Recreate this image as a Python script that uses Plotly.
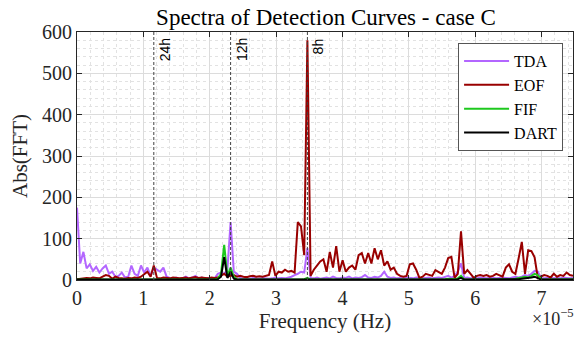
import numpy as np
import plotly.graph_objects as go

# frequency bins: resolution 1/(24 days), 156 bins
n_bins = 156
freq = np.arange(n_bins) / (24 * 86400.0)

tda = [175, 40, 68, 28, 38, 22, 32, 18, 28, 35, 15, 20, 8, 10, 18, 6, 8, 35, 15, 10,
       35, 18, 30, 10, 30, 25, 20, 30, 8, 5, 4, 6, 3, 4, 8, 4, 6, 10, 4, 6,
       3, 5, 3, 4, 15, 18, 15, 25, 140, 20, 15, 5, 3, 4, 3, 5, 4, 3, 5, 4,
       3, 4, 6, 4, 5, 4, 6, 8, 12, 15, 20, 18, 77, 5, 4, 6, 3, 5, 6, 4,
       8, 5, 4, 6, 5, 8, 4, 6, 5, 7, 12, 6, 5, 8, 6, 10, 20, 8, 5, 6,
       4, 5, 4, 6, 5, 4, 6, 5, 4, 5, 6, 4, 5, 6, 5, 8, 10, 6, 10, 20,
       40, 5, 6, 4, 5, 4, 6, 5, 4, 6, 5, 4, 5, 6, 5, 4, 6, 8, 6, 8,
       12, 10, 15, 22, 20, 5, 4, 5, 6, 4, 5, 4, 6, 5, 4, 5]

eof = [2, 3, 4, 5, 4, 6, 5, 4, 8, 12, 10, 3, 8, 5, 4, 3, 5, 4, 6, 5,
       8, 15, 20, 8, 35, 5, 4, 6, 5, 4, 6, 5, 4, 5, 6, 4, 5, 7, 5, 6,
       5, 4, 6, 5, 6, 10, 15, 8, 10, 12, 8, 10, 8, 7, 9, 10, 8, 9, 8, 10,
       12, 45, 10, 20, 18, 25, 20, 22, 18, 140, 130, 60, 580, 10, 25, 35, 45, 50, 20, 68,
       30, 82, 20, 48, 20, 30, 35, 25, 60, 65, 40, 65, 40, 77, 50, 72, 35, 45, 25, 30,
       15, 10, 8, 10, 38, 40, 25, 5, 8, 15, 12, 10, 24, 20, 15, 30, 53, 56, 5, 15,
       118, 15, 24, 15, 5, 10, 12, 10, 12, 8, 10, 15, 12, 8, 30, 38, 20, 15, 52, 92,
       15, 72, 70, 55, 5, 8, 12, 10, 6, 15, 8, 12, 10, 18, 12, 10]

fif = [1, 1, 1, 1, 1, 1, 1, 1, 1, 1, 1, 1, 1, 1, 1, 1, 1, 1, 1, 1,
       1, 1, 1, 1, 2, 1, 1, 1, 1, 1, 1, 1, 1, 1, 1, 1, 1, 1, 1, 1,
       1, 1, 2, 2, 3, 15, 85, 10, 30, 8, 2, 1, 1, 1, 1, 1, 1, 1, 1, 1,
       1, 1, 1, 1, 1, 1, 1, 1, 1, 2, 2, 2, 5, 1, 1, 1, 1, 1, 1, 1,
       1, 1, 1, 1, 1, 1, 1, 1, 1, 1, 1, 1, 1, 1, 1, 2, 2, 1, 1, 1,
       1, 1, 1, 1, 1, 1, 1, 1, 1, 1, 1, 1, 1, 1, 1, 2, 3, 3, 2, 4,
       10, 2, 1, 1, 1, 1, 1, 1, 1, 1, 1, 1, 1, 1, 2, 2, 2, 3, 4, 6,
       8, 6, 10, 15, 12, 2, 1, 1, 1, 1, 1, 1, 1, 1, 2, 2]

dart = [1, 1, 1, 1, 1, 1, 1, 1, 1, 1, 1, 1, 1, 1, 1, 1, 1, 1, 1, 1,
        1, 1, 1, 1, 1, 1, 1, 1, 1, 1, 1, 1, 1, 1, 1, 1, 1, 1, 1, 1,
        1, 1, 1, 1, 2, 8, 55, 5, 20, 3, 1, 1, 1, 1, 1, 1, 1, 1, 1, 1,
        1, 1, 1, 1, 1, 1, 1, 1, 1, 1, 1, 1, 2, 1, 1, 1, 1, 1, 1, 1,
        1, 1, 1, 1, 1, 1, 1, 1, 1, 1, 1, 1, 1, 1, 1, 1, 1, 1, 1, 1,
        1, 1, 1, 1, 1, 1, 1, 1, 1, 1, 1, 1, 1, 1, 1, 1, 2, 2, 1, 2,
        5, 1, 1, 1, 1, 1, 1, 1, 1, 1, 1, 1, 1, 1, 1, 1, 1, 2, 2, 3,
        4, 4, 6, 8, 5, 1, 1, 1, 1, 1, 1, 1, 1, 1, 1, 1]

series_names = ["TDA", "EOF", "FIF", "DART"]
series_values = [tda, eof, fif, dart]
series_colors = ["#b366ff", "#990000", "#1ec81e", "#000000"]

period_hours = [24, 12, 8]
period_labels = ["24h", "12h", "8h"]

x_tick_vals = [0, 1, 2, 3, 4, 5, 6, 7]
y_tick_vals = [0, 100, 200, 300, 400, 500, 600]

serif = "Liberation Serif"
sans = "Liberation Sans"

fig = go.Figure()
for name, vals, col in zip(series_names, series_values, series_colors):
    fig.add_trace(go.Scatter(x=freq, y=vals, mode="lines", name=name,
                             line=dict(color=col, width=2)))

for h, lab in zip(period_hours, period_labels):
    xf = 1.0 / (h * 3600.0)
    fig.add_shape(type="line", xref="x", yref="paper", x0=xf, x1=xf, y0=0, y1=1,
                  line=dict(color="#404040", width=1, dash="3px,2px"), layer="above")
    fig.add_annotation(x=xf, y=1, xref="x", yref="paper", text=lab, showarrow=False,
                       textangle=-90, xanchor="left", yanchor="top", xshift=1, yshift=-4,
                       font=dict(family=sans, size=14, color="#000000"))

fig.add_annotation(x=1, y=0, xref="paper", yref="paper", text="×10<sup>−5</sup>",
                   showarrow=False, xanchor="right", yanchor="top", yshift=-24, xshift=3,
                   font=dict(family=serif, size=18, color="#262626"))

axis_common = dict(showline=True, linecolor="#262626", linewidth=1, mirror="ticks",
                   ticks="inside", ticklen=5, tickcolor="#262626", zeroline=False,
                   showgrid=True, gridcolor="#dcdcdc", gridwidth=1,
                   tickfont=dict(family=serif, size=20, color="#262626"))

fig.update_xaxes(range=[0, freq[-1]], tickvals=[v * 1e-5 for v in x_tick_vals],
                 ticktext=[str(v) for v in x_tick_vals],
                 title=dict(text="Frequency (Hz)", font=dict(family=serif, size=21, color="#262626"),
                            standoff=2),
                 minor=dict(dtick=0.2e-5, showgrid=True, gridcolor="#e2e2e2", griddash="dot",
                            ticks=""),
                 **axis_common)
fig.update_yaxes(range=[0, 600], tickvals=y_tick_vals,
                 title=dict(text="Abs(FFT)", font=dict(family=serif, size=21, color="#262626"),
                            standoff=8),
                 minor=dict(dtick=20, showgrid=True, gridcolor="#e2e2e2", griddash="dot",
                            ticks=""),
                 **axis_common)

fig.update_layout(
    width=577, height=337,
    margin=dict(l=77, r=4, t=32, b=57),
    paper_bgcolor="white", plot_bgcolor="white",
    title=dict(text="Spectra of Detection Curves - case C", x=0.565, xanchor="center",
               y=0.975, yanchor="top", font=dict(family=serif, size=23, color="#000000")),
    legend=dict(x=0.98, y=0.955, xanchor="right", yanchor="top", bgcolor="white",
                bordercolor="#555555", borderwidth=1,
                font=dict(family=serif, size=16, color="#000000"),
                tracegroupgap=0, itemwidth=45),
    showlegend=True,
)

fig.write_html("out.html")
